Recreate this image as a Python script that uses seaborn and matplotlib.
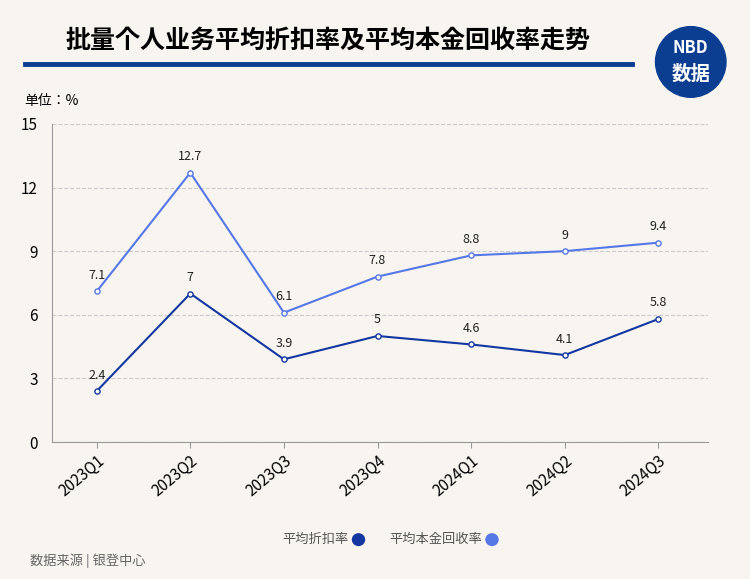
import glob
import matplotlib
matplotlib.use("Agg")
import matplotlib.pyplot as plt
from matplotlib import font_manager
from matplotlib.patches import Ellipse
import pandas as pd
import seaborn as sns

for f in glob.glob("/usr/share/fonts/**/*CJK*", recursive=True):
    try:
        font_manager.fontManager.addfont(f)
    except Exception:
        pass
names = sorted({f.name for f in font_manager.fontManager.ttflist if "CJK" in f.name})
cjk = "Noto Sans CJK SC" if "Noto Sans CJK SC" in names else (names[0] if names else "DejaVu Sans")
plt.rcParams["font.family"] = [cjk, "DejaVu Sans"]

quarters = ["2023Q1", "2023Q2", "2023Q3", "2023Q4", "2024Q1", "2024Q2", "2024Q3"]
discount = [2.4, 7, 3.9, 5, 4.6, 4.1, 5.8]
recovery = [7.1, 12.7, 6.1, 7.8, 8.8, 9, 9.4]
yticks = [0, 3, 6, 9, 12, 15]

bg = "#f8f5f1"
dark = "#1237a0"
light = "#5677e6"

fig = plt.figure(figsize=(7.5, 5.79), dpi=100, facecolor=bg)
ax = fig.add_axes([0.069, 0.2366, 0.875, 0.5494], facecolor=bg)

df = pd.DataFrame({"q": list(range(len(quarters))) * 2,
                   "v": discount + recovery,
                   "s": ["平均折扣率"] * 7 + ["平均本金回收率"] * 7})
sns.lineplot(data=df, x="q", y="v", hue="s", palette=[dark, light], ax=ax,
             legend=False, lw=1.5)
for vals, c in ((discount, dark), (recovery, light)):
    sns.scatterplot(x=list(range(len(vals))), y=vals, ax=ax, s=14, color="white",
                    edgecolor=c, linewidth=1, zorder=3)
    for i, v in enumerate(vals):
        ax.text(i, v + 0.45, f"{v:g}", ha="center", va="bottom", fontsize=9, color="#222")

ax.set_xlim(-0.48, 6.53)
ax.set_ylim(0, 15)
ax.set_yticks(yticks)
ax.set_xticks(range(len(quarters)))
ax.set_xticklabels(quarters, rotation=40, ha="right", rotation_mode="anchor", fontsize=11)
ax.tick_params(axis="y", labelsize=11, length=0, pad=10)
ax.tick_params(axis="x", length=4, color="#999")
ax.grid(axis="y", ls="--", color="#cccccc", lw=0.8)
ax.set_axisbelow(True)
ax.set_xlabel("")
ax.set_ylabel("")
for s in ["top", "right"]:
    ax.spines[s].set_visible(False)
for s in ["left", "bottom"]:
    ax.spines[s].set_color("#999")

fig.text(0.088, 0.93, "批量个人业务平均折扣率及平均本金回收率走势", fontsize=18,
         fontweight="bold", va="center")
fig.add_artist(plt.Line2D([0.033, 0.843], [0.889, 0.889], color="#0b3d91", lw=3.5))
fig.add_artist(Ellipse((0.921, 0.893), 0.094, 0.122, color="#0b3d91"))
fig.text(0.921, 0.917, "NBD", color="white", fontsize=12, fontweight="bold", ha="center", va="center")
fig.text(0.921, 0.872, "数据", color="white", fontsize=14, fontweight="bold", ha="center", va="center")
fig.text(0.032, 0.825, "单位：%", fontsize=10, va="center")

fig.text(0.465, 0.068, "平均折扣率", fontsize=9.5, color="#555", ha="right", va="center")
fig.add_artist(Ellipse((0.478, 0.068), 0.016, 0.02, color=dark))
fig.text(0.643, 0.068, "平均本金回收率", fontsize=9.5, color="#555", ha="right", va="center")
fig.add_artist(Ellipse((0.656, 0.068), 0.016, 0.02, color=light))
fig.text(0.04, 0.032, "数据来源 | 银登中心", fontsize=9.5, color="#666", va="center")

fig.savefig("out.png", facecolor=bg)
